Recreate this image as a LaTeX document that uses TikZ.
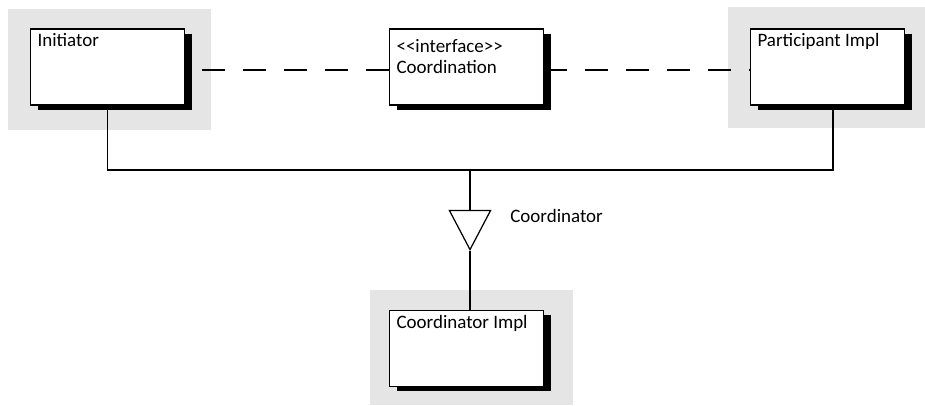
\documentclass[tikz,border=0pt]{standalone}
\usepackage{fontspec}
\setmainfont{Carlito}
\usetikzlibrary{shapes.geometric,shadows}

\begin{document}
\begin{tikzpicture}[every node/.style={font=\fontsize{10.8}{12}\selectfont},
  backdrop/.style={fill=gray!20, draw=none, minimum width=4.06cm, minimum height=2.42cm},
  classbox/.style={draw, fill=white, line width=0.9pt, minimum width=3.08cm, minimum height=1.52cm,
    drop shadow={shadow xshift=0.15cm, shadow yshift=-0.1cm, fill=black, opacity=1}},
  boxlabel/.style={anchor=north west, inner sep=0pt, xshift=0.15cm, yshift=-0.1cm, align=left},
  link/.style={line width=0.7pt},
  dashlink/.style={line width=0.7pt, dash pattern=on 0.46cm off 0.36cm}]
  \useasboundingbox (0,0) rectangle (18.5,-8.12);

  \node[backdrop] (initbg) at (2.19,-1.39) {};
  \node[backdrop, minimum width=3.94cm] (partbg) at (16.53,-1.35) {};
  \node[backdrop, minimum height=2.3cm] (implbg) at (9.43,-6.95) {};

  \node[classbox, label={[boxlabel]north west:Initiator}] (init) at (2.15,-1.34) {};
  \node[classbox, label={[boxlabel, yshift=-0.11cm]north west:<{}<interface>{}>\\Coordination}] (iface) at (9.33,-1.34) {};
  \node[classbox, label={[boxlabel]north west:Participant Impl}] (part) at (16.55,-1.34) {};
  \node[classbox, label={[boxlabel]north west:Coordinator Impl}] (impl) at (9.33,-6.97) {};

  \node[draw, fill=white, isosceles triangle, isosceles triangle stretches, shape border rotate=270,
    minimum width=0.82cm, minimum height=0.78cm, inner sep=0pt, line width=0.7pt, anchor=north] (sock) at (9.4,-4.2) {};
  \node[anchor=west, inner sep=0pt] (socklabel) at (10.2,-4.32) {Coordinator};

  \coordinate (bus) at (9.4,-3.4);

  \draw[dashlink] ([yshift=-0.06cm]iface.west) -- ([yshift=-0.06cm]init.east);
  \draw[dashlink] ([yshift=-0.06cm]iface.east) -- ([yshift=-0.06cm]part.west);
  \draw[link] (init.south) |- (bus) -| ([xshift=0.11cm]part.south);
  \draw[link] (bus) -- (sock.north);
  \draw[link] (sock.south) -- (sock.south |- impl.north);
\end{tikzpicture}
\end{document}
